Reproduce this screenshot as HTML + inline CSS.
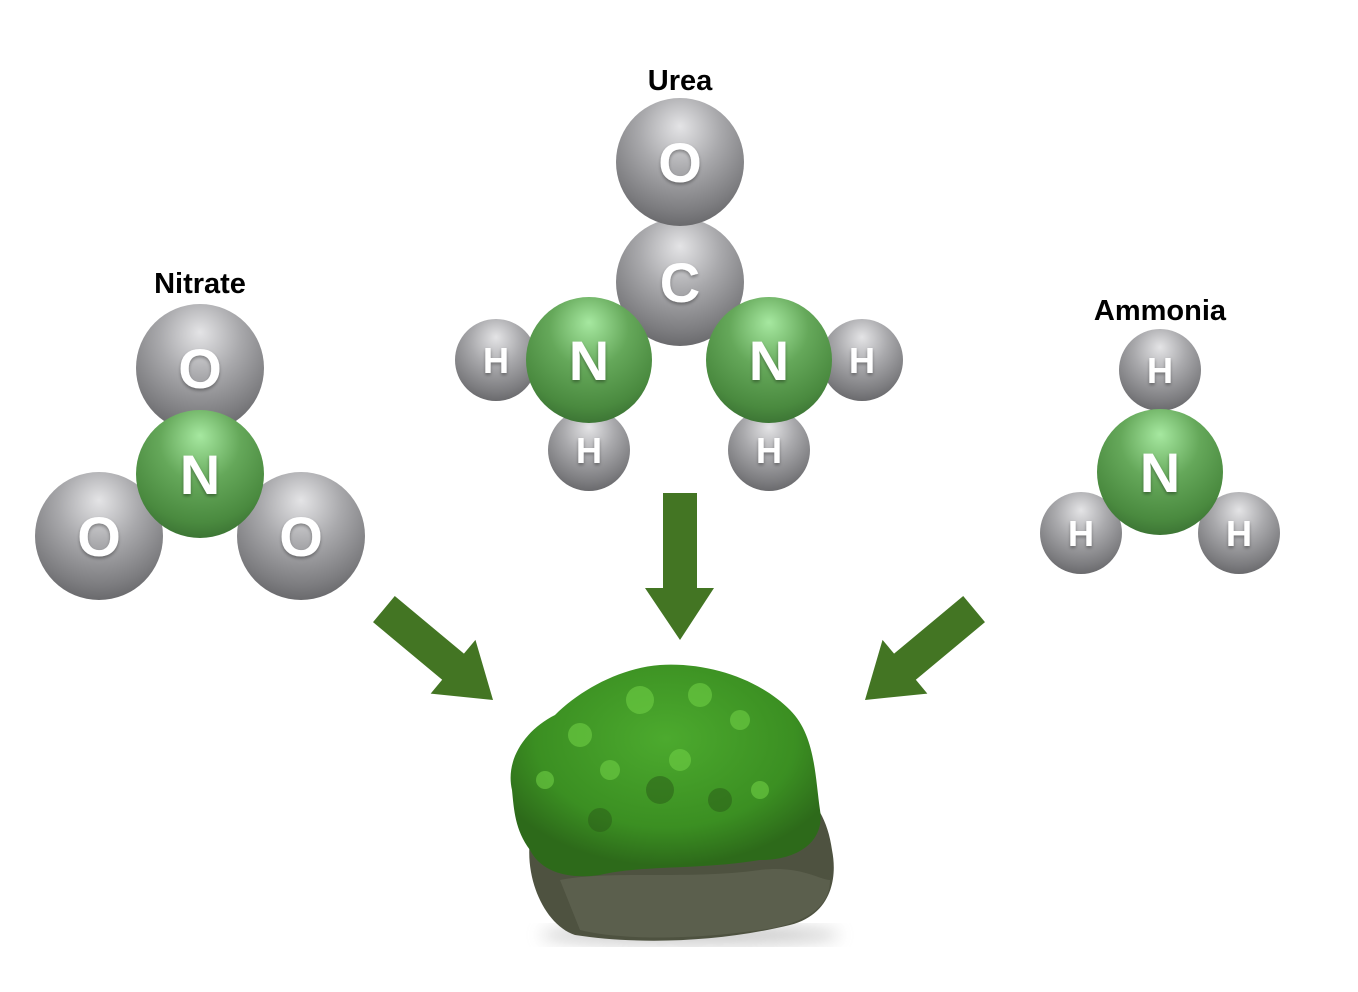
<!DOCTYPE html>
<html><head><meta charset="utf-8"><style>
html,body{margin:0;padding:0;background:#fff;}
svg{display:block;}
text{font-family:"Liberation Sans",sans-serif;font-weight:bold;}
.lbl{font-size:29px;fill:#000;text-anchor:middle;}
.big{font-size:56px;fill:#fff;text-anchor:middle;}
.sm{font-size:36px;fill:#fff;text-anchor:middle;}
</style></head><body>
<svg width="1358" height="992" viewBox="0 0 1358 992" xmlns="http://www.w3.org/2000/svg">
<defs>
<radialGradient id="g" cx="50%" cy="30%" r="70%" fx="50%" fy="22%">
<stop offset="0" stop-color="#e4e4e6"/><stop offset="0.45" stop-color="#a9a9ac"/><stop offset="0.85" stop-color="#7d7d80"/><stop offset="1" stop-color="#6a6a6d"/></radialGradient>
<radialGradient id="n" cx="50%" cy="30%" r="70%" fx="50%" fy="20%">
<stop offset="0" stop-color="#a6e8a0"/><stop offset="0.45" stop-color="#65a85a"/><stop offset="0.85" stop-color="#4a8a3f"/><stop offset="1" stop-color="#3d7635"/></radialGradient>
<radialGradient id="m" cx="50%" cy="35%" r="60%">
<stop offset="0" stop-color="#4caa2e"/><stop offset="0.7" stop-color="#3b8f22"/><stop offset="1" stop-color="#2d6a1a"/></radialGradient>
<filter id="ts"><feDropShadow dx="0" dy="2" stdDeviation="1.5" flood-color="#000" flood-opacity="0.35"/></filter>
<filter id="bl"><feGaussianBlur stdDeviation="8"/></filter>
</defs>

<!-- Nitrate -->
<text class="lbl" x="200" y="293">Nitrate</text>
<circle cx="200" cy="368" r="64" fill="url(#g)"/>
<circle cx="99" cy="536" r="64" fill="url(#g)"/>
<circle cx="301" cy="536" r="64" fill="url(#g)"/>
<circle cx="200" cy="474" r="64" fill="url(#n)"/>
<g filter="url(#ts)">
<text class="big" x="200" y="388">O</text>
<text class="big" x="99" y="556">O</text>
<text class="big" x="301" y="556">O</text>
<text class="big" x="200" y="494">N</text>
</g>

<!-- Urea -->
<text class="lbl" x="680" y="90">Urea</text>
<circle cx="680" cy="282" r="64" fill="url(#g)"/>
<circle cx="680" cy="162" r="64" fill="url(#g)"/>
<circle cx="496" cy="360" r="41" fill="url(#g)"/>
<circle cx="862" cy="360" r="41" fill="url(#g)"/>
<circle cx="589" cy="450" r="41" fill="url(#g)"/>
<circle cx="769" cy="450" r="41" fill="url(#g)"/>
<circle cx="589" cy="360" r="63" fill="url(#n)"/>
<circle cx="769" cy="360" r="63" fill="url(#n)"/>
<g filter="url(#ts)">
<text class="big" x="680" y="182">O</text>
<text class="big" x="680" y="302">C</text>
<text class="big" x="589" y="380">N</text>
<text class="big" x="769" y="380">N</text>
<text class="sm" x="496" y="373">H</text>
<text class="sm" x="862" y="373">H</text>
<text class="sm" x="589" y="463">H</text>
<text class="sm" x="769" y="463">H</text>
</g>

<!-- Ammonia -->
<text class="lbl" x="1160" y="320">Ammonia</text>
<circle cx="1160" cy="370" r="41" fill="url(#g)"/>
<circle cx="1081" cy="533" r="41" fill="url(#g)"/>
<circle cx="1239" cy="533" r="41" fill="url(#g)"/>
<circle cx="1160" cy="472" r="63" fill="url(#n)"/>
<g filter="url(#ts)">
<text class="sm" x="1160" y="383">H</text>
<text class="sm" x="1081" y="546">H</text>
<text class="sm" x="1239" y="546">H</text>
<text class="big" x="1160" y="492">N</text>
</g>

<!-- Arrows -->
<g fill="#437523">
<polygon points="663,493 697,493 697,588 714,588 680,640 645,588 663,588"/>
<g transform="translate(493,700) rotate(39.8)"><polygon points="0,0 -52,-35 -52,-17 -142,-17 -142,17 -52,17 -52,35"/></g>
<g transform="translate(865,700) rotate(140.2)"><polygon points="0,0 -52,-35 -52,-17 -142,-17 -142,17 -52,17 -52,35"/></g>
</g>

<!-- Moss -->
<ellipse cx="690" cy="935" rx="150" ry="10" fill="#999" opacity="0.5" filter="url(#bl)"/>
<path d="M530,840 C525,880 545,925 575,935 C640,945 720,942 790,925 C830,915 838,880 832,850 C828,820 815,800 800,790 L560,800 Z" fill="#4e5240"/>
<path d="M560,880 C610,870 690,880 760,870 C800,865 820,880 830,880 C830,910 800,925 760,930 C690,940 620,940 580,930 Z" fill="#5f6350" opacity="0.8"/>
<path d="M512,790 C505,760 525,730 555,715 C580,690 620,668 660,665 C710,662 760,680 790,710 C815,735 815,775 820,810 C825,840 800,860 760,860 C700,870 640,865 600,875 C565,880 540,870 530,850 C515,830 514,810 512,790 Z" fill="url(#m)"/>
<g fill="#6fcf45" opacity="0.6">
<circle cx="640" cy="700" r="14"/><circle cx="700" cy="695" r="12"/><circle cx="580" cy="735" r="12"/>
<circle cx="740" cy="720" r="10"/><circle cx="610" cy="770" r="10"/><circle cx="680" cy="760" r="11"/>
<circle cx="545" cy="780" r="9"/><circle cx="760" cy="790" r="9"/>
</g>
<g fill="#2a5a18" opacity="0.5">
<circle cx="660" cy="790" r="14"/><circle cx="720" cy="800" r="12"/><circle cx="600" cy="820" r="12"/>
</g>
</svg>
</body></html>
